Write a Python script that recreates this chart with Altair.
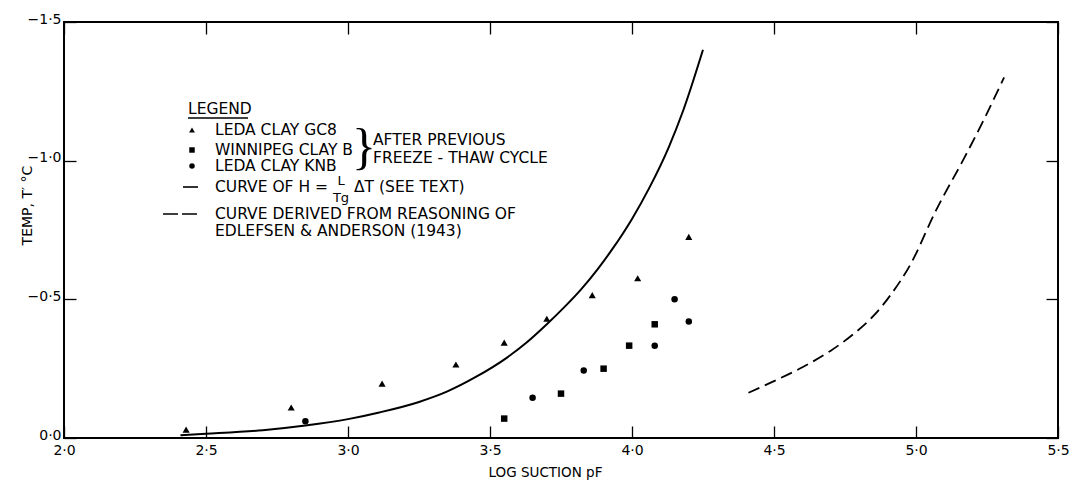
import altair as alt
import pandas as pd

# ---------------- data ----------------
# LEDA CLAY GC8 (triangles)
gc8_pf = [2.43, 2.80, 3.12, 3.38, 3.55, 3.70, 3.86, 4.02, 4.20]
gc8_t = [-0.03, -0.11, -0.196, -0.265, -0.344, -0.43, -0.515, -0.576, -0.725]
# WINNIPEG CLAY B (squares)
win_pf = [3.55, 3.75, 3.90, 3.99, 4.08]
win_t = [-0.07, -0.16, -0.25, -0.333, -0.41]
# LEDA CLAY KNB (circles)
knb_pf = [2.85, 3.65, 3.83, 4.08, 4.15, 4.20]
knb_t = [-0.06, -0.145, -0.243, -0.333, -0.50, -0.42]
# Curve of H = L/Tg dT (solid)
sol_pf = [2.41, 2.50, 2.70, 2.85, 3.00, 3.11, 3.25, 3.35, 3.45, 3.56, 3.63, 3.70,
          3.76, 3.82, 3.88, 3.93, 4.00, 4.06, 4.13, 4.18, 4.25]
sol_t = [-0.01, -0.015, -0.028, -0.045, -0.068, -0.092, -0.13, -0.168, -0.22, -0.29,
         -0.345, -0.41, -0.47, -0.535, -0.61, -0.68, -0.79, -0.90, -1.05, -1.18, -1.40]
# Curve derived from reasoning of Edlefsen & Anderson (dashed)
dash_pf = [4.41, 4.50, 4.60, 4.70, 4.78, 4.85, 4.91, 4.98, 5.07, 5.17, 5.24, 5.31]
dash_t = [-0.163, -0.205, -0.255, -0.315, -0.375, -0.44, -0.515, -0.625, -0.82, -1.01,
          -1.15, -1.30]

x_ticks = [2.0, 2.5, 3.0, 3.5, 4.0, 4.5, 5.0, 5.5]
y_ticks = [-1.5, -1.0, -0.5, 0.0]

# ---------------- layout / style ----------------
FONT = "DejaVu Sans"
W, H = 994, 416
TICK = 12
LABEL = "replace(format(datum.value, '.1f'), '.', '\u00b7')"

xscale = alt.Scale(domain=[2.0, 5.5], nice=False, zero=False)
yscale = alt.Scale(domain=[-1.5, 0.0], nice=False, zero=False, reverse=True)

gc8 = pd.DataFrame({"pf": gc8_pf, "t": gc8_t})
win = pd.DataFrame({"pf": win_pf, "t": win_t})
knb = pd.DataFrame({"pf": knb_pf, "t": knb_t})
sol = pd.DataFrame({"pf": sol_pf, "t": sol_t})
dsh = pd.DataFrame({"pf": dash_pf, "t": dash_t})
one = pd.DataFrame({"a": [0]})


def tick_axis(orient, vals):
    return alt.Axis(orient=orient, values=vals, offset=-TICK, tickSize=TICK,
                    tickColor="black", tickWidth=1.3, labels=False, domain=False,
                    grid=False, title="")


# main labelled axes (on the circle layer)
x_main = alt.Axis(orient="bottom", values=x_ticks, labelExpr=LABEL, title="LOG  SUCTION  pF",
                  ticks=False, tickSize=0, domain=False, grid=False, labelFlush=False,
                  labelPadding=5, labelFontSize=14, titleFontSize=13.5, titlePadding=8,
                  titleFontWeight="normal", titleX=481)
y_main = alt.Axis(orient="left", values=y_ticks, labelExpr=LABEL, title="TEMP,  T\u2032 \u00b0C",
                  ticks=False, tickSize=0, domain=False, grid=False, labelFlush=False,
                  labelPadding=3, labelOffset=-3, labelFontSize=14, titleFontSize=14,
                  titleFontWeight="normal", titleX=-37, titleY=183, titleBaseline="middle")

circles = alt.Chart(knb).mark_point(shape="circle", filled=True, color="black", size=42, opacity=1).encode(
    x=alt.X("pf:Q", scale=xscale, axis=x_main),
    y=alt.Y("t:Q", scale=yscale, axis=y_main),
)
triangles = alt.Chart(gc8).mark_point(shape="triangle-up", filled=True, color="black", size=50, opacity=1).encode(
    x=alt.X("pf:Q", scale=xscale, axis=tick_axis("bottom", x_ticks)),
    y=alt.Y("t:Q", scale=yscale, axis=tick_axis("left", y_ticks)),
)
squares = alt.Chart(win).mark_point(shape="square", filled=True, color="black", size=42, opacity=1).encode(
    x=alt.X("pf:Q", scale=xscale, axis=tick_axis("top", x_ticks)),
    y=alt.Y("t:Q", scale=yscale, axis=tick_axis("right", y_ticks)),
)
solid = alt.Chart(sol).mark_line(color="black", strokeWidth=2, interpolate="monotone").encode(
    x=alt.X("pf:Q", scale=xscale, axis=None),
    y=alt.Y("t:Q", scale=yscale, axis=None),
)
dashed = alt.Chart(dsh).mark_line(color="black", strokeWidth=1.8, strokeDash=[12, 6],
                                  interpolate="monotone").encode(
    x=alt.X("pf:Q", scale=xscale, axis=None),
    y=alt.Y("t:Q", scale=yscale, axis=None),
)

# ---------------- hand-lettered legend ----------------
LX_GLYPH, LX_TEXT = 128, 151
legend_layers = []


def txt(s, x, y, size=15.5, align="left", font=FONT):
    return alt.Chart(one).mark_text(text=s, align=align, baseline="middle", font=font,
                                    fontSize=size, color="black").encode(
        x=alt.value(x), y=alt.value(y))


def glyph(shape, y, size=38):
    return alt.Chart(one).mark_point(shape=shape, filled=True, color="black", size=size, opacity=1).encode(
        x=alt.value(LX_GLYPH), y=alt.value(y))


def hline(x1, x2, y, dash=None):
    kw = {"strokeDash": dash} if dash else {}
    return alt.Chart(one).mark_rule(color="black", strokeWidth=1.6, **kw).encode(
        x=alt.value(x1), x2=alt.value(x2), y=alt.value(y))


legend_layers += [
    txt("LEGEND", 124, 87),
    hline(124, 184, 96),
    glyph("triangle-up", 108, 34),
    txt("LEDA CLAY GC8", LX_TEXT, 108),
    glyph("square", 128, 30),
    txt("WINNIPEG CLAY B", LX_TEXT, 128),
    glyph("circle", 144, 30),
    txt("LEDA CLAY KNB", LX_TEXT, 144),
    txt("}", 300, 126, size=50, align="center", font="Liberation Serif"),
    txt("AFTER PREVIOUS", 309, 118),
    txt("FREEZE - THAW CYCLE", 309, 136),
    hline(119, 134, 165),
    txt("CURVE OF H =", LX_TEXT, 165),
    txt("L", 277, 159, size=13, align="center"),
    txt("Tg", 277, 176, size=13, align="center"),
    txt("\u0394T (SEE TEXT)", 290, 165),
    hline(99, 134, 192, dash=[15, 4]),
    txt("CURVE DERIVED FROM REASONING OF", LX_TEXT, 192),
    txt("EDLEFSEN & ANDERSON (1943)", LX_TEXT, 209),
]

chart = alt.layer(circles, triangles, squares, solid, dashed, *legend_layers).resolve_axis(
    x="independent", y="independent"
).properties(
    width=W, height=H, autosize="none",
    padding={"left": 64, "top": 22, "right": 14, "bottom": 45},
).configure(font=FONT, background="white").configure_view(
    stroke="black", strokeWidth=2
).configure_axis(
    labelFont=FONT, titleFont=FONT, labelColor="black", titleColor="black"
)

chart.save("out.html", embed_options={"renderer": "svg", "actions": False})
